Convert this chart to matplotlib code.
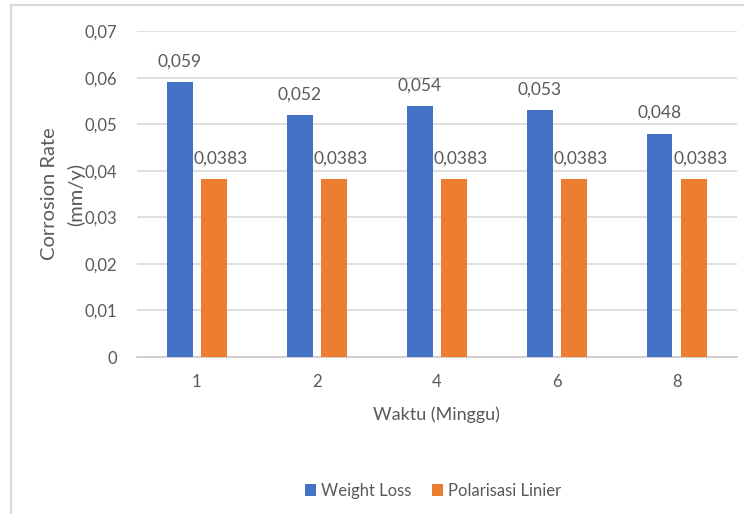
import numpy as np
import matplotlib.pyplot as plt
from matplotlib.lines import Line2D

plt.rcParams['font.family'] = ['Lato', 'DejaVu Sans']

weeks = ['1', '2', '4', '6', '8']
weight_loss = [0.059, 0.052, 0.054, 0.053, 0.048]
polarisasi = [0.0383, 0.0383, 0.0383, 0.0383, 0.0383]
y_ticks = [0, 0.01, 0.02, 0.03, 0.04, 0.05, 0.06, 0.07]

BLUE = '#4472C4'
ORANGE = '#ED7D31'
TEXT = '#595959'
GRID = '#d9d9d9'

fig = plt.figure(figsize=(7.44, 5.14), dpi=100)
ax = fig.add_axes([0.184, 0.3054, 0.806, 0.634])

x = np.arange(len(weeks))
w = 0.215
off = 0.142
b1 = ax.bar(x - off, weight_loss, w, color=BLUE, label='Weight Loss', zorder=3)
b2 = ax.bar(x + off, polarisasi, w, color=ORANGE, label='Polarisasi Linier', zorder=3)

def fmt(v, nd):
    return ('{:.%df}' % nd).format(v).replace('.', ',')

for rect, v in zip(b1, weight_loss):
    ax.annotate(fmt(v, 3), (rect.get_x() + rect.get_width() / 2, v),
                xytext=(0, 9), textcoords='offset points',
                ha='center', va='bottom', fontsize=12.5, color=TEXT)
for rect, v in zip(b2, polarisasi):
    ax.annotate(fmt(v, 4), (rect.get_x() + rect.get_width() / 2, v),
                xytext=(5, 9), textcoords='offset points',
                ha='center', va='bottom', fontsize=12.5, color=TEXT)

ax.set_xlim(-0.5, len(weeks) - 0.5)
ax.set_ylim(0, 0.07)
ax.set_yticks(y_ticks)
ax.set_yticklabels([fmt(t, 2) if t else '0' for t in y_ticks])
ax.set_xticks(x)
ax.set_xticklabels(weeks)
ax.tick_params(axis='both', length=0, labelsize=12, colors=TEXT)
ax.tick_params(axis='y', pad=14)
ax.tick_params(axis='x', pad=12)
ax.grid(axis='y', color=GRID, linewidth=1.2, zorder=0)
for s in ['top', 'right', 'left']:
    ax.spines[s].set_visible(False)
ax.spines['bottom'].set_color('#c8c8c8')
ax.spines['bottom'].set_linewidth(1.2)

ax.set_xlabel('Waktu (Minggu)', fontsize=13, color=TEXT, labelpad=12)
ax.set_ylabel('Corrosion Rate\n(mm/y)', fontsize=14.5, color=TEXT,
              labelpad=0, multialignment='center', linespacing=1.55)

fig.legend(handles=[b1, b2], loc='center', bbox_to_anchor=(0.582, 0.045),
           ncol=2, frameon=False, fontsize=12, labelcolor=TEXT,
           handlelength=0.7, handleheight=0.7, handletextpad=0.3,
           columnspacing=1.2)

# chart area outline (top and left edges)
fig.add_artist(Line2D([11 / 744, 1.0], [1 - 5 / 514, 1 - 5 / 514],
                      transform=fig.transFigure, color=GRID, linewidth=1.5))
fig.add_artist(Line2D([11 / 744, 11 / 744], [0, 1 - 5 / 514],
                      transform=fig.transFigure, color=GRID, linewidth=1.5))

fig.savefig('out.png', dpi=100)
